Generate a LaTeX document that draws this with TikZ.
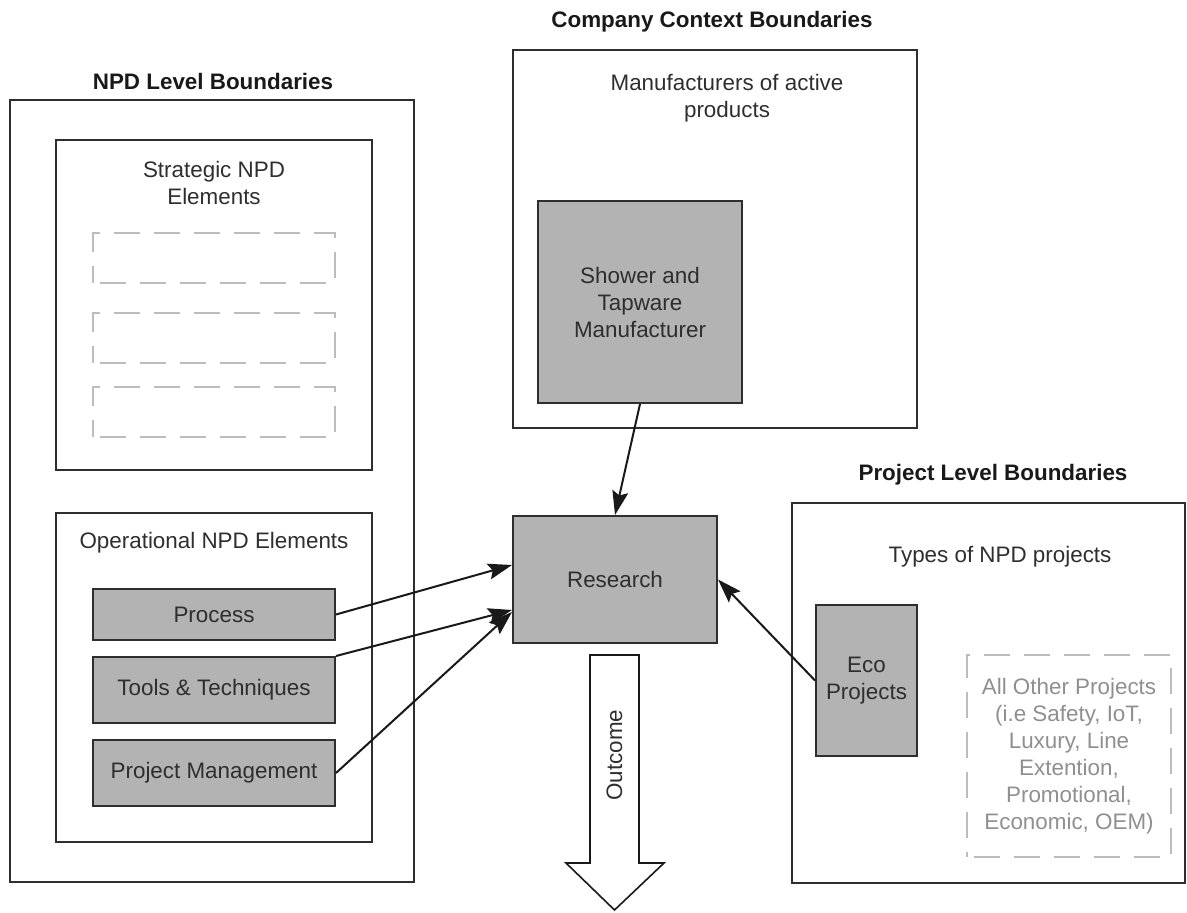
\documentclass[tikz,border=0pt]{standalone}
\usepackage{fontspec}
\setmainfont{Liberation Sans}
\usetikzlibrary{arrows.meta}

\definecolor{boxgray}{HTML}{B3B3B3}
\definecolor{linedark}{HTML}{2E2E2E}
\definecolor{dashgray}{HTML}{BDBDBD}
\definecolor{textgray}{HTML}{8F8F8F}

\tikzset{
	frame/.style={draw=linedark, line width=1pt, rectangle, inner sep=0pt},
	element/.style={frame, fill=boxgray, align=center, text=linedark},
	dashbox/.style={draw=dashgray, line width=0.9pt, dash pattern=on 13pt off 7pt, dash phase=-3.5pt, rectangle, inner sep=0pt, align=center, text=textgray},
	caption/.style={align=center, text=linedark},
	heading/.style={font=\fontsize{11.2}{13.5}\selectfont\bfseries, text=black!90},
	link/.style={-{Stealth[length=12pt,width=8pt,inset=2pt]}, line width=1pt, black!90}
}

\begin{document}
\begin{tikzpicture}[x=0.5pt, y=-0.5pt, font=\fontsize{11.2}{13.5}\selectfont]
	\useasboundingbox (0,0) rectangle (1187,913);

	\begin{scope}
		\node[heading] (npdTitle) at (213,82) {NPD Level Boundaries};
		\node[frame, minimum width=202pt, minimum height=391pt] (npdLevel) at (212,491) {};

		\node[frame, minimum width=158pt, minimum height=165pt] (strategic) at (214,305) {};
		\node[caption] (strategicText) at (214,183) {Strategic NPD\\Elements};
		\node[dashbox, minimum width=121pt, minimum height=25pt] (slotA) at (214,258) {};
		\node[dashbox, minimum width=121pt, minimum height=25pt] (slotB) at (214,338) {};
		\node[dashbox, minimum width=121pt, minimum height=25pt] (slotC) at (214,412) {};

		\node[frame, minimum width=158pt, minimum height=164.5pt] (operational) at (214,677.5) {};
		\node[caption] (operationalText) at (214,543) {Operational NPD Elements};
		\node[element, minimum width=121pt, minimum height=25.5pt] (process) at (214,614.5) {Process};
		\node[element, minimum width=121pt, minimum height=33pt] (tools) at (214,690) {Tools \& Techniques};
		\node[element, minimum width=121pt, minimum height=33pt] (pm) at (214,773) {Project Management};
	\end{scope}

	\begin{scope}
		\node[heading] (companyTitle) at (712,22) {Company Context Boundaries};
		\node[frame, minimum width=202pt, minimum height=189pt] (company) at (715,239) {};
		\node[caption] (companyText) at (727,98) {Manufacturers of active\\products};
		\node[element, minimum width=102pt, minimum height=101pt] (shower) at (640,302) {Shower and\\Tapware\\Manufacturer};
	\end{scope}

	\begin{scope}
		\node[heading] (projectTitle) at (993,475) {Project Level Boundaries};
		\node[frame, minimum width=196.5pt, minimum height=190pt] (project) at (988.5,693) {};
		\node[caption] (projectText) at (1000,557) {Types of NPD projects};
		\node[element, minimum width=50.5pt, minimum height=75.5pt] (eco) at (866.5,680.5) {Eco\\Projects};
		\node[dashbox, minimum width=102pt, minimum height=101pt] (others) at (1069,756) {All Other Projects\\(i.e Safety, IoT,\\Luxury, Line\\Extention,\\Promotional,\\Economic, OEM)};
	\end{scope}

	\node[element, minimum width=102pt, minimum height=63.5pt] (research) at (615,579.5) {Research};

	\begin{scope}
		\draw[line width=0.8pt, black!90, line join=miter] (590,655) -- (639,655) -- (639,863) -- (664,863) -- (614.5,910) -- (566,863) -- (590,863) -- cycle;
		\node[rotate=90, text=linedark] (outcome) at (614.5,755) {Outcome};
	\end{scope}

	\begin{scope}
		\draw[link] (shower.south) -- (research.north);
		\draw[link] (process.east) -- ([yshift=7.25pt]research.west);
		\draw[link] (tools.north east) -- ([yshift=-15.25pt]research.west);
		\draw[link] (pm.east) -- ([yshift=-16.25pt]research.west);
		\draw[link] (eco.west) -- (research.east);
	\end{scope}
\end{tikzpicture}
\end{document}
